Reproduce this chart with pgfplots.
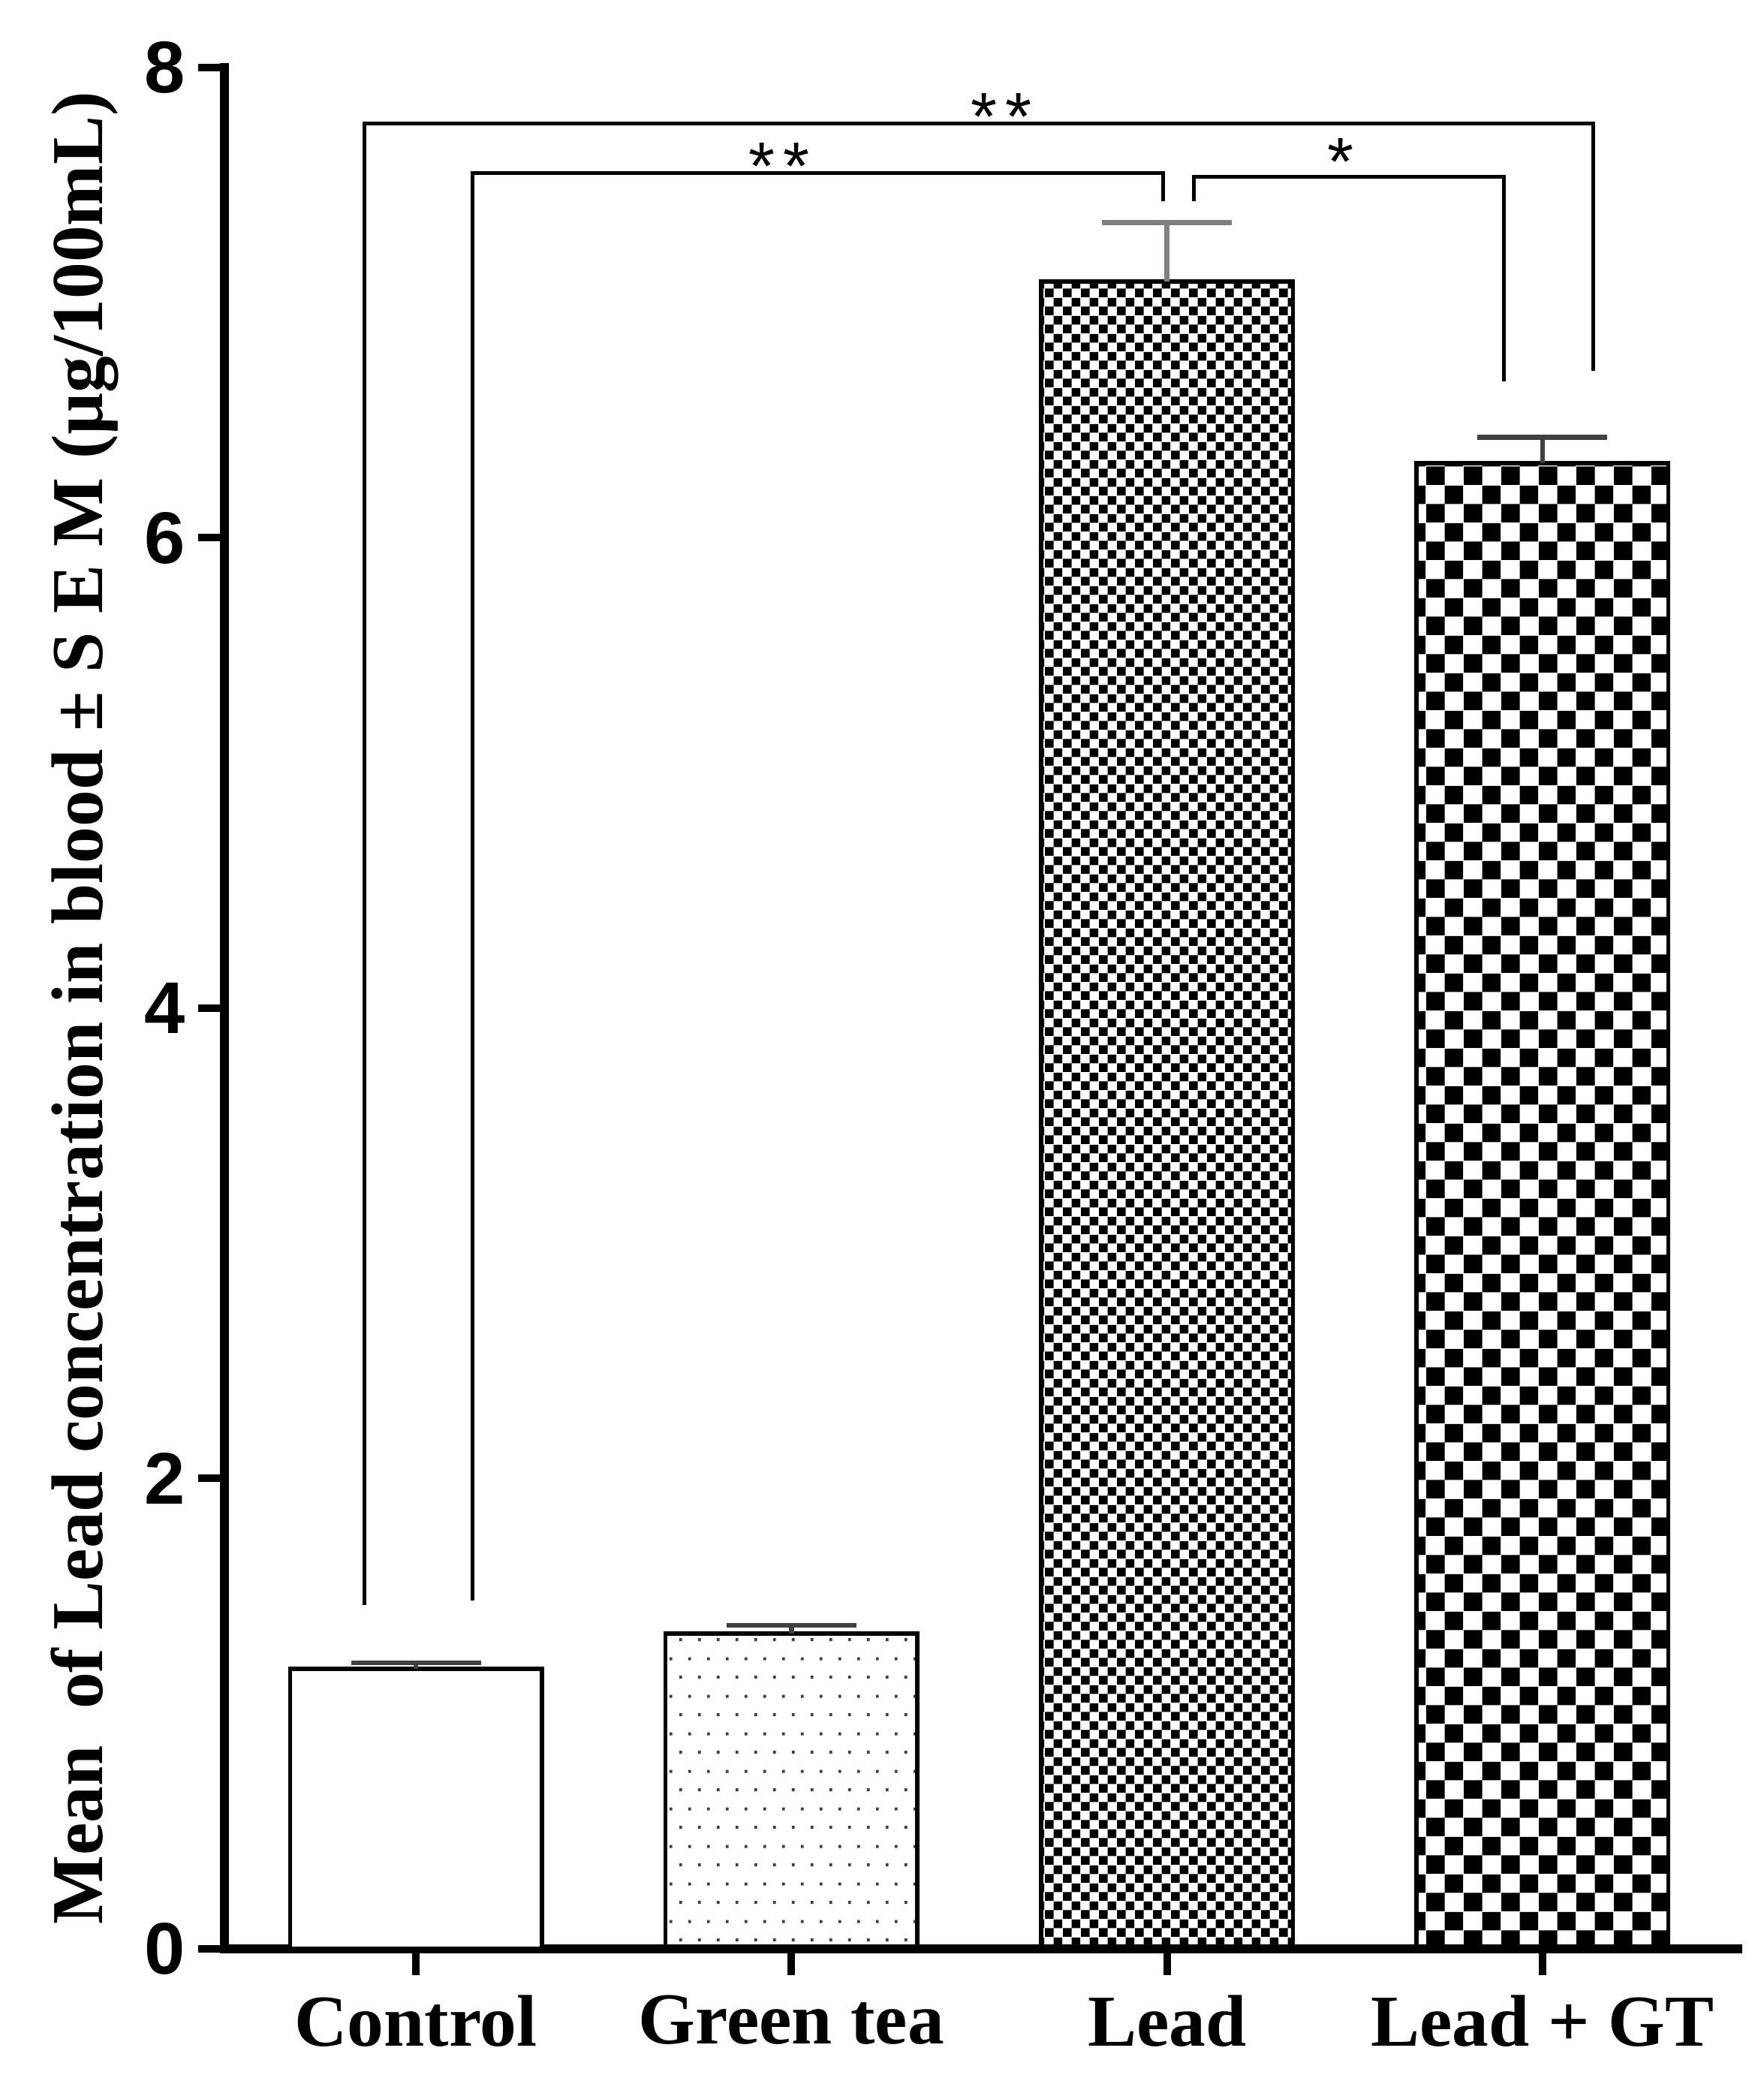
\documentclass[border=0pt]{standalone}
\usepackage{fontspec}
\setmainfont{Liberation Serif}
\setsansfont{Liberation Sans}
\usepackage{pgfplots}
\pgfplotsset{compat=1.18}
\usetikzlibrary{patterns}

\pgfdeclarepatternformonly{finechecker}{\pgfpointorigin}{\pgfpoint{4.8pt}{4.8pt}}{\pgfpoint{4.8pt}{4.8pt}}{%
  \pgfpathrectangle{\pgfpointorigin}{\pgfpoint{2.4pt}{2.4pt}}%
  \pgfpathrectangle{\pgfpoint{2.4pt}{2.4pt}}{\pgfpoint{2.4pt}{2.4pt}}%
  \pgfusepath{fill}}
\pgfdeclarepatternformonly{coarsechecker}{\pgfpointorigin}{\pgfpoint{10pt}{10pt}}{\pgfpoint{10pt}{10pt}}{%
  \pgfpathrectangle{\pgfpointorigin}{\pgfpoint{5pt}{5pt}}%
  \pgfpathrectangle{\pgfpoint{5pt}{5pt}}{\pgfpoint{5pt}{5pt}}%
  \pgfusepath{fill}}
\pgfdeclarepatternformonly{gtdots}{\pgfpointorigin}{\pgfpoint{5pt}{10pt}}{\pgfpoint{5pt}{10pt}}{%
  \pgfpathrectangle{\pgfpoint{1pt}{2pt}}{\pgfpoint{0.8pt}{0.8pt}}%
  \pgfpathrectangle{\pgfpoint{3.5pt}{7pt}}{\pgfpoint{0.8pt}{0.8pt}}%
  \pgfusepath{fill}}

\begin{document}
\begin{tikzpicture}
\begin{axis}[
  scale only axis,
  width=403.2pt, height=501.2pt,
  xmin=-0.51, xmax=3.52, ymin=0, ymax=8,
  axis x line=bottom, axis y line=left,
  axis line style={-, line width=2.4pt, line cap=rect},
  tick align=outside,
  major tick length=7pt,
  tick style={line width=2pt, black},
  xtick={0,1,2,3},
  xticklabels={Control, Green tea, Lead, Lead + GT},
  ytick={0,2,4,6,8},
  minor tick num=0,
  /pgf/number format/assume math mode=true,
  xticklabel style={font=\fontsize{19.5}{20}\selectfont\bfseries, yshift=-1.8pt},
  yticklabel style={font=\fontsize{19.5}{20}\selectfont\bfseries\sffamily},
  ylabel={Mean\ \ of Lead concentration in blood ± S E M (µg/100mL)},
  ylabel style={font=\fontsize{19.5}{20}\selectfont\bfseries, at={(axis description cs:-0.0804,0.5)}, anchor=base},
  clip=false,
  ybar, bar width=0.671,
]
\coordinate (SW) at (rel axis cs:0,0);
\coordinate (NE) at (rel axis cs:1,1);

\addplot[bar shift=0pt, draw=black, line width=1.1pt, fill=white,
  error bars/.cd, y dir=plus, y explicit, error mark=-,
  error mark options={rotate=90, mark size=17.3pt, line width=1.3pt, draw=black!75},
  error bar style={line width=1.3pt, draw=black!75}]
  coordinates {(0,1.191) +- (0,0.025)};
\addplot[bar shift=0pt, draw=black, line width=1.1pt, pattern=gtdots, pattern color=black!75,
  error bars/.cd, y dir=plus, y explicit, error mark=-,
  error mark options={rotate=90, mark size=17.3pt, line width=1.3pt, draw=black!75},
  error bar style={line width=1.3pt, draw=black!75}]
  coordinates {(1,1.341) +- (0,0.035)};
\addplot[bar shift=0pt, draw=black, line width=1.1pt, pattern=finechecker, pattern color=black,
  error bars/.cd, y dir=plus, y explicit, error mark=-,
  error mark options={rotate=90, mark size=17.3pt, line width=1.3pt, draw=black!50},
  error bar style={line width=1.3pt, draw=black!50}]
  coordinates {(2,7.09) +- (0,0.25)};
\addplot[bar shift=0pt, draw=black, line width=1.1pt, pattern=coarsechecker, pattern color=black,
  error bars/.cd, y dir=plus, y explicit, error mark=-,
  error mark options={rotate=90, mark size=17.3pt, line width=1.3pt, draw=black!75},
  error bar style={line width=1.3pt, draw=black!75}]
  coordinates {(3,6.318) +- (0,0.11)};

% significance brackets
\addplot[sharp plot, draw=black, line width=1pt, line join=miter, no markers]
  coordinates {(-0.138,1.462) (-0.138,7.761) (3.136,7.761) (3.136,6.71)};
\addplot[sharp plot, draw=black, line width=1pt, line join=miter, no markers]
  coordinates {(0.150,1.481) (0.150,7.553) (1.989,7.553) (1.989,7.432)};
\addplot[sharp plot, draw=black, line width=1pt, line join=miter, no markers]
  coordinates {(2.071,7.432) (2.071,7.534) (2.898,7.534) (2.898,6.666)};

\node[anchor=base, inner sep=0pt, font=\sffamily\fontsize{18}{18}\selectfont] at (axis cs:1.559,7.692) {*\hspace{2.2pt}*};
\node[anchor=base, inner sep=0pt, font=\sffamily\fontsize{18}{18}\selectfont] at (axis cs:0.967,7.482) {*\hspace{2.2pt}*};
\node[anchor=base, inner sep=0pt, font=\sffamily\fontsize{18}{18}\selectfont] at (axis cs:2.463,7.499) {*};
\end{axis}
\pgfresetboundingbox
\path[use as bounding box] ([shift={(-59.8pt,-40pt)}]SW) rectangle ([shift={(6.8pt,18pt)}]NE);
\end{tikzpicture}
\end{document}
